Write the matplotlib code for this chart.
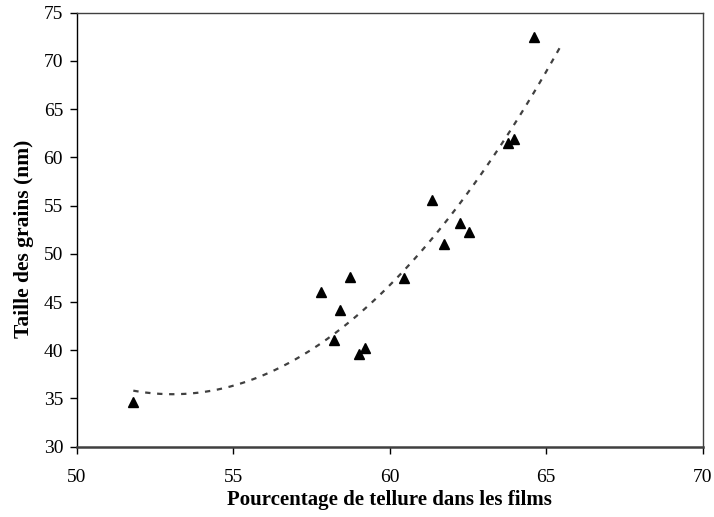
import matplotlib.pyplot as plt
import numpy as np

plt.rcParams['font.family'] = ['Liberation Serif', 'DejaVu Serif']

# tellurium content (%) and grain size (nm)
tellure = [51.80, 57.81, 58.40, 58.20, 58.73, 59.01, 59.22, 60.46,
           61.34, 61.73, 62.23, 62.53, 63.79, 63.97, 64.60]
taille = [34.66, 46.07, 44.17, 41.06, 47.56, 39.61, 40.26, 47.46,
          55.58, 50.98, 53.16, 52.23, 61.45, 61.87, 72.51]

x_ticks = [50, 55, 60, 65, 70]
y_ticks = [30, 35, 40, 45, 50, 55, 60, 65, 70, 75]

fig = plt.figure(figsize=(7.14, 5.17), dpi=100)
ax = fig.add_axes([77/714, 1-446.7/517, (702.7-77)/714, (446.7-12.7)/517])

# second order polynomial trend, extended a little past the last point
coef = np.polyfit(tellure, taille, 2)
xt = np.linspace(min(tellure), 65.5, 200)
ax.plot(xt, np.polyval(coef, xt), color='#404040', lw=1.6,
        linestyle=(0, (2.4, 3.0)))

ax.plot(tellure, taille, linestyle='none', marker='^', color='black',
        markersize=7.5)

ax.set_xlim(50, 70)
ax.set_ylim(30, 75)
ax.set_xticks(x_ticks)
ax.set_yticks(y_ticks)
ax.tick_params(direction='out', length=5, width=1, labelsize=14, pad=5)
ax.tick_params(axis='x', pad=11)

ax.spines['left'].set_color('black')
ax.spines['left'].set_linewidth(1)
ax.spines['bottom'].set_color('#404040')
ax.spines['bottom'].set_linewidth(1.8)
for s in ('top', 'right'):
    ax.spines[s].set_color('#404040')
    ax.spines[s].set_linewidth(1)

ax.set_xlabel('Pourcentage de tellure dans les films', fontsize=15,
              fontweight='bold', labelpad=3)
ax.set_ylabel('Taille des grains (nm)', fontsize=15.5, fontweight='bold')
ax.yaxis.set_label_coords(-0.068, 0.48)

fig.savefig('out.png', dpi=100)
